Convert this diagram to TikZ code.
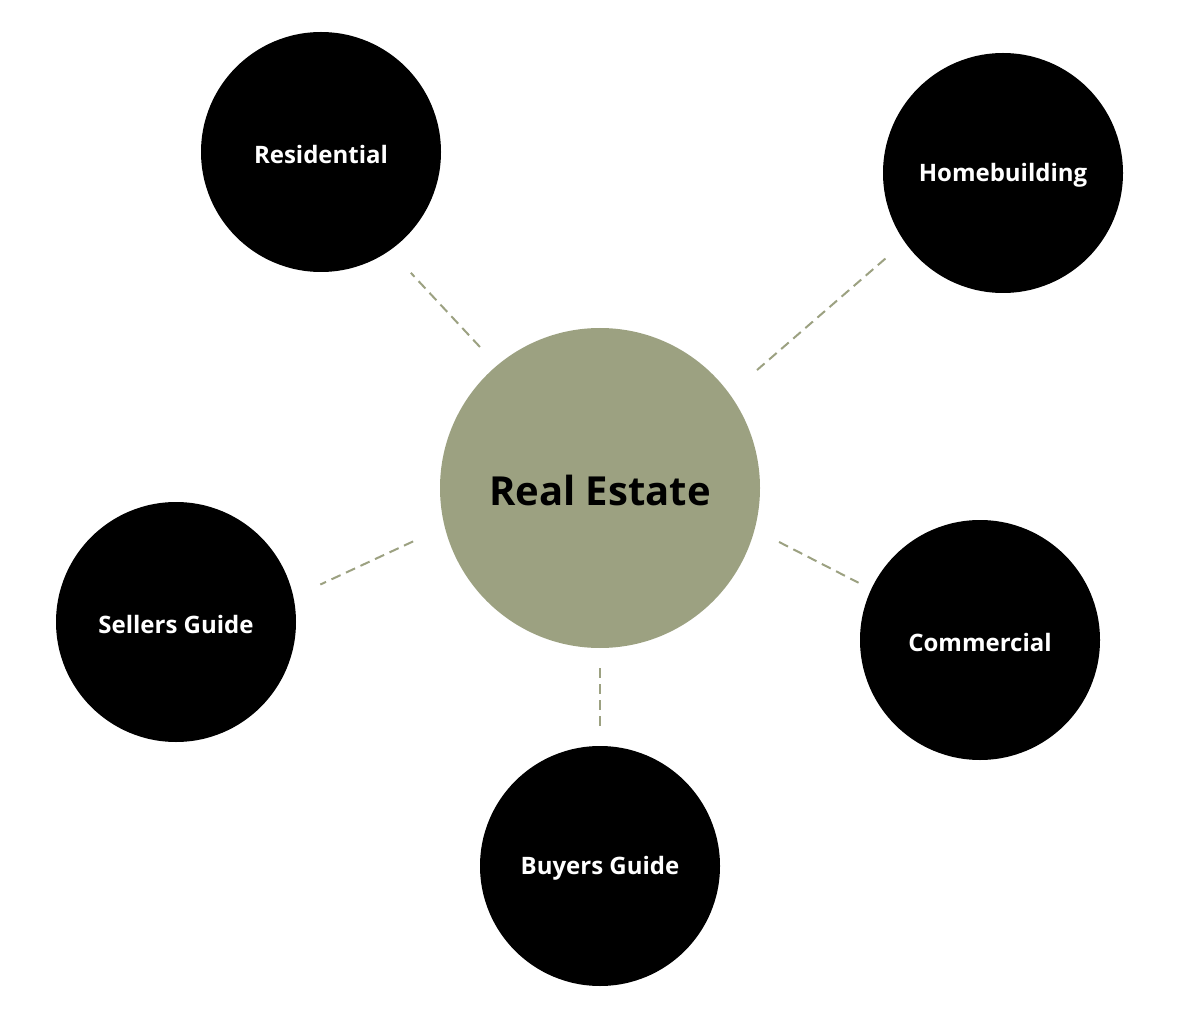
\documentclass[tikz,border=0pt]{standalone}
\usepackage{fontspec}
\setmainfont{Open Sans}
\newcommand{\lowr}[1]{\raisebox{-2.5pt}[\height][\depth]{#1}}
\begin{document}
\begin{tikzpicture}[x=1pt,y=-1pt,
  hub/.style={circle,fill=olive,minimum size=320pt,inner sep=0pt,outer sep=0pt,text=black,font=\bfseries\fontsize{40}{44}\selectfont},
  leaf/.style={circle,fill=black,minimum size=240pt,inner sep=0pt,outer sep=0pt,text=white,font=\bfseries\fontsize{24}{28}\selectfont},
  link/.style={draw=olive,line width=2pt,dash pattern=on 10pt off 6pt}]
\definecolor{olive}{HTML}{9CA181}
\useasboundingbox (0,0) rectangle (1200,1024);
\node[hub] (re) at (600,488) {\lowr{Real Estate}};
\node[leaf] (res) at (321,152) {\lowr{Residential}};
\node[leaf] (home) at (1003,173) {\lowr{Homebuilding}};
\node[leaf] (sell) at (176,622) {\lowr{Sellers Guide}};
\node[leaf] (com) at (980,640) {\lowr{Commercial}};
\node[leaf] (buy) at (600,866) {\lowr{Buyers Guide}};
\draw[link,shorten <=25.2pt,shorten >=30.8pt] (re.130.1) -- (res.305.9);
\draw[link,shorten <=36.5pt,shorten >=25.3pt] (re.36.1) -- (home.215.4);
\draw[link,shorten <=34.9pt,shorten >=29.7pt] (re.194) -- (sell.12.9);
\draw[link,shorten <=27.6pt,shorten >=14.3pt] (re.345.1) -- (com.155.7);
\draw[link,shorten <=20pt,shorten >=20pt] (re.270) -- (buy.90);
\end{tikzpicture}
\end{document}
